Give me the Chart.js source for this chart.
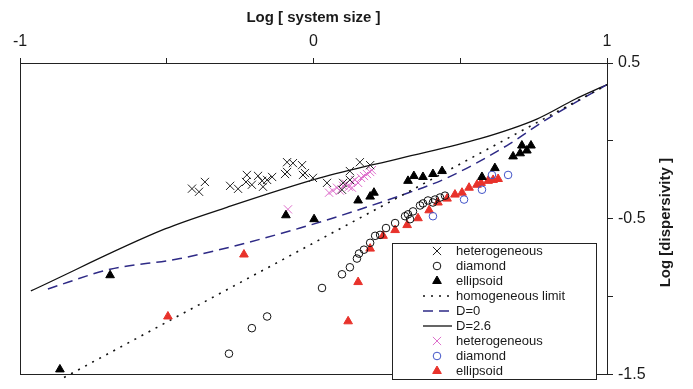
<!DOCTYPE html>
<html><head><meta charset="utf-8">
<script src="https://cdn.jsdelivr.net/npm/chart.js@4/dist/chart.umd.min.js"></script>
<style>html,body{margin:0;padding:0;background:#fff;}#wrap{width:693px;height:389px;position:relative;}</style>
</head><body><div id="wrap"><canvas id="c" width="693" height="389"></canvas></div>
<script>
// ---- data (log system size, log dispersivity) ----
const xTickValues = [-1, -0.5, 0, 0.5, 1];
const xTickLabels = ['-1', '', '0', '', '1'];
const yTickValues = [0.5, 0, -0.5, -1, -1.5];
const yTickLabels = ['0.5', '', '-0.5', '', '-1.5'];

const heterogeneousBlack = [[-0.414,-0.307],[-0.390,-0.327],[-0.370,-0.264],[-0.284,-0.289],[-0.257,-0.308],[-0.230,-0.264],[-0.227,-0.219],[-0.210,-0.282],[-0.189,-0.225],[-0.175,-0.257],[-0.172,-0.295],[-0.158,-0.251],[-0.141,-0.232],[-0.090,-0.137],[-0.070,-0.143],[-0.039,-0.156],[-0.090,-0.200],[-0.097,-0.213],[-0.036,-0.219],[-0.002,-0.238],[-0.029,-0.207],[0.046,-0.270],[0.097,-0.314],[0.101,-0.270],[0.124,-0.194],[0.158,-0.137],[0.193,-0.156],[0.124,-0.251]];
const diamondBlack = [[-0.288,-1.367],[-0.210,-1.203],[-0.158,-1.128],[0.029,-0.945],[0.097,-0.857],[0.124,-0.812],[0.148,-0.756],[0.155,-0.724],[0.172,-0.699],[0.193,-0.655],[0.210,-0.610],[0.227,-0.604],[0.247,-0.560],[0.278,-0.528],[0.312,-0.484],[0.329,-0.503],[0.322,-0.472],[0.339,-0.453],[0.363,-0.415],[0.373,-0.402],[0.390,-0.383],[0.407,-0.396],[0.414,-0.377],[0.431,-0.364],[0.448,-0.352]];
const ellipsoidBlack = [[-0.864,-1.468],[-0.693,-0.863],[-0.094,-0.478],[0.002,-0.503],[0.152,-0.383],[0.193,-0.358],[0.206,-0.333],[0.322,-0.257],[0.342,-0.226],[0.373,-0.232],[0.407,-0.213],[0.438,-0.194],[0.574,-0.232],[0.618,-0.175],[0.680,-0.100],[0.704,-0.080],[0.710,-0.030],[0.727,-0.062],[0.741,-0.030]];
const heterogeneousPink = [[-0.087,-0.440],[0.053,-0.333],[0.066,-0.320],[0.080,-0.301],[0.090,-0.320],[0.101,-0.289],[0.111,-0.276],[0.121,-0.295],[0.131,-0.263],[0.141,-0.251],[0.152,-0.270],[0.162,-0.238],[0.172,-0.226],[0.182,-0.213],[0.193,-0.200],[0.199,-0.188],[0.131,-0.301]];
const diamondBlue = [[0.407,-0.484],[0.513,-0.377],[0.574,-0.314],[0.608,-0.219],[0.663,-0.219]];
const ellipsoidRed = [[-0.496,-1.128],[-0.237,-0.730],[0.118,-1.159],[0.152,-0.907],[0.193,-0.692],[0.237,-0.610],[0.278,-0.573],[0.319,-0.541],[0.356,-0.497],[0.394,-0.446],[0.424,-0.396],[0.455,-0.371],[0.482,-0.345],[0.506,-0.333],[0.530,-0.301],[0.557,-0.282],[0.571,-0.270],[0.595,-0.257],[0.612,-0.251],[0.629,-0.245]];
const homogeneousLimit = [[-0.85,-1.52],[1.0,0.36]];
const curveD0 = [[-0.905,-0.951],[-0.693,-0.825],[-0.455,-0.756],[-0.046,-0.560],[0.295,-0.352],[0.455,-0.238],[0.659,-0.030],[0.796,0.140],[1.0,0.361]];
const curveD26 = [[-0.963,-0.964],[-0.506,-0.566],[-0.295,-0.427],[0.022,-0.238],[0.295,-0.112],[0.567,0.014],[0.761,0.140],[0.891,0.267],[1.0,0.361]];

const seriesNames = ['heterogeneous','diamond','ellipsoid','homogeneous limit','D=0','D=2.6','heterogeneous','diamond','ellipsoid'];

const toXY = a => a.map(p => ({x: p[0], y: p[1]}));
const FONT = "'Liberation Sans', Arial, sans-serif";
const INK = '#1a1a1a';

const pts = (label, data, style, color, fill, r, extra) => Object.assign({
  type: 'scatter', label, data: toXY(data), pointStyle: style, pointRadius: r, pointHoverRadius: r,
  borderColor: color, backgroundColor: fill, pointBorderWidth: 1, borderWidth: 1, order: 1
}, extra || {});
const line = (label, data, color, dash, width, extra) => Object.assign({
  type: 'line', label, data: toXY(data), borderColor: color, borderDash: dash, borderWidth: width,
  pointRadius: 0, fill: false, showLine: true, cubicInterpolationMode: 'monotone', order: 5
}, extra || {});

const datasets = [
  pts(seriesNames[0], heterogeneousBlack, 'crossRot', '#222', '#222', 5.8),
  pts(seriesNames[1], diamondBlack, 'circle', '#111', 'rgba(0,0,0,0)', 3.8),
  pts(seriesNames[2], ellipsoidBlack, 'triangle', '#000', '#000', 5),
  line(seriesNames[3], homogeneousLimit, '#111', [2, 6], 1.6, {clip: 6}),
  line(seriesNames[4], curveD0, '#2e2a86', [10, 6], 1.5),
  line(seriesNames[5], curveD26, '#111', [], 1.3),
  pts(seriesNames[6], heterogeneousPink, 'crossRot', '#de6fcb', '#de6fcb', 5.8),
  pts(seriesNames[7], diamondBlue, 'circle', '#4254c8', 'rgba(0,0,0,0)', 3.8),
  pts(seriesNames[8], ellipsoidRed, 'triangle', '#e8322b', '#e8322b', 5)
];

function drawSymbol(ctx, ds, x, y) {
  ctx.save();
  ctx.strokeStyle = ds.borderColor; ctx.fillStyle = ds.backgroundColor; ctx.lineWidth = 1;
  if (ds.type === 'line') {
    ctx.setLineDash(ds.borderDash); ctx.lineWidth = ds.borderWidth;
    ctx.beginPath(); ctx.moveTo(x - 14, y); ctx.lineTo(x + 15, y); ctx.stroke();
  } else if (ds.pointStyle === 'crossRot') {
    const d = ds.pointRadius * Math.SQRT1_2;
    ctx.beginPath(); ctx.moveTo(x-d,y-d); ctx.lineTo(x+d,y+d); ctx.moveTo(x+d,y-d); ctx.lineTo(x-d,y+d); ctx.stroke();
  } else if (ds.pointStyle === 'circle') {
    ctx.beginPath(); ctx.arc(x, y, ds.pointRadius, 0, Math.PI*2); ctx.stroke();
  } else {
    const r = ds.pointRadius;
    ctx.beginPath();
    for (let i = 0; i < 3; i++) {
      const a = -Math.PI/2 + i * 2*Math.PI/3;
      const px = x + Math.cos(a)*r, py = y + Math.sin(a)*r;
      i ? ctx.lineTo(px, py) : ctx.moveTo(px, py);
    }
    ctx.closePath(); ctx.fill(); ctx.stroke();
  }
  ctx.restore();
}

const decor = {
  id: 'decor',
  afterDatasetsDraw(chart) {
    const {ctx, chartArea: a} = chart;
    // frame
    ctx.save();
    ctx.strokeStyle = '#222'; ctx.lineWidth = 1;
    ctx.strokeRect(Math.round(a.left)+0.5, Math.round(a.top)+0.5, Math.round(a.right-a.left), Math.round(a.bottom-a.top));
    // legend box
    const L = a.right - 215, T = a.top + 180, W = 204, H = 136;
    ctx.fillStyle = '#fff'; ctx.fillRect(L, T, W, H);
    ctx.strokeStyle = '#222'; ctx.strokeRect(L + 0.5, T + 0.5, W, H);
    ctx.font = '13px ' + FONT; ctx.fillStyle = INK; ctx.textBaseline = 'middle'; ctx.textAlign = 'left';
    chart.data.datasets.forEach((ds, i) => {
      const yy = T + 8 + i * 15;
      drawSymbol(ctx, ds, L + 45, yy);
      ctx.fillStyle = INK;
      ctx.fillText(ds.label, L + 64, yy + 0.5);
    });
    // y axis title (reads bottom-to-top)
    ctx.translate(666, (a.top + a.bottom) / 2 + 4);
    ctx.rotate(-Math.PI / 2);
    ctx.font = 'bold 15px ' + FONT; ctx.textAlign = 'center'; ctx.textBaseline = 'middle';
    ctx.fillText('Log [dispersivity ]', 0, 0);
    ctx.restore();
  }
};

new Chart(document.getElementById('c'), {
  type: 'scatter',
  data: { datasets },
  options: {
    responsive: false, animation: false, devicePixelRatio: 1,
    layout: { padding: { left: 20, bottom: 9, top: 0, right: 0 } },
    plugins: { legend: { display: false }, tooltip: { enabled: false } },
    scales: {
      x: {
        type: 'linear', position: 'top', min: -1, max: 1,
        afterBuildTicks: s => { s.ticks = xTickValues.map(v => ({value: v})); },
        afterFit: s => { s.height = 63; },
        ticks: { autoSkip: false, maxRotation: 0, padding: 7, color: INK, font: { family: FONT, size: 16 },
          callback: v => { const i = xTickValues.indexOf(v); return i >= 0 ? xTickLabels[i] : ''; } },
        grid: { display: true, drawOnChartArea: false, drawTicks: true, tickLength: 5, color: '#222' },
        border: { display: true, color: '#222', width: 1 },
        title: { display: true, text: 'Log [ system size ]', color: INK, font: { family: FONT, size: 15, weight: 'bold' }, padding: { top: 9, bottom: 0 } }
      },
      y: {
        type: 'linear', position: 'right', min: -1.5, max: 0.5,
        afterBuildTicks: s => { s.ticks = yTickValues.map(v => ({value: v})); },
        afterFit: s => { s.width = 86; },
        ticks: { autoSkip: false, padding: 5, color: INK, font: { family: FONT, size: 16 },
          callback: v => { const i = yTickValues.indexOf(v); return i >= 0 ? yTickLabels[i] : ''; } },
        grid: { display: true, drawOnChartArea: false, drawTicks: true, tickLength: 6, color: '#222' },
        border: { display: true, color: '#222', width: 1 }
      }
    }
  },
  plugins: [decor]
});
</script></body></html>
